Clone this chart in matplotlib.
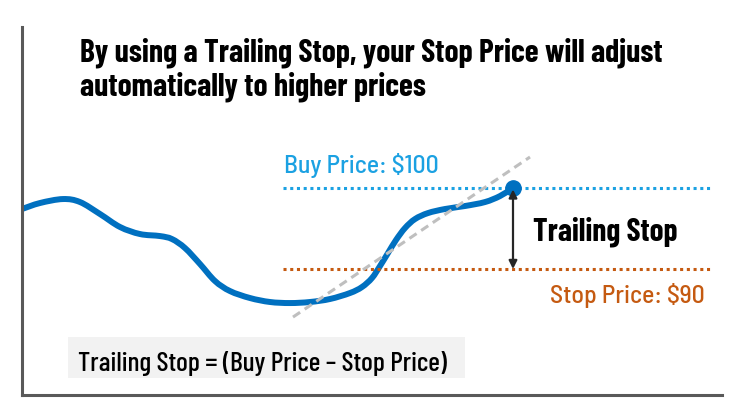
import numpy as np
import matplotlib
matplotlib.use("Agg")
import matplotlib.pyplot as plt
from matplotlib.patches import Rectangle, PathPatch
from matplotlib.path import Path

plt.rcParams["font.family"] = ["Barlow Condensed", "Roboto Condensed", "DejaVu Sans"]
LABEL_FONT = ["Barlow Semi Condensed", "Barlow Condensed", "Roboto Condensed", "DejaVu Sans"]

# price path (x = time step, y = price in $)
time = [22, 40, 63, 80, 100, 120, 140, 160, 172, 185, 200, 215, 230, 250, 270, 290,
        310, 330, 350, 362, 372, 380, 388, 396, 405, 415, 428, 445, 465, 485, 500, 513]
price = [97.41, 98.15, 98.64, 98.27, 96.79, 95.19, 94.32, 94.07, 93.70, 92.59, 90.62,
         88.52, 87.28, 86.42, 85.93, 85.80, 85.93, 86.30, 87.04, 87.78, 88.89, 90.37,
         91.98, 93.58, 95.06, 96.17, 96.91, 97.41, 97.78, 98.27, 99.01, 100.0]
trend_time = [293, 530]
trend_price = [84.07, 103.83]
buy_price = 100
stop_price = 90
level_span = [283, 710]

BLUE = "#0070c0"
CYAN = "#1ba1e2"
ORANGE = "#c55a11"
GRAY = "#595959"


def smooth_path(xs, ys):
    # Catmull-Rom through the read points, drawn as cubic Bezier segments
    pts = np.column_stack([xs, ys]).astype(float)
    verts, codes = [pts[0]], [Path.MOVETO]
    n = len(pts)
    for i in range(n - 1):
        p0, p1, p2, p3 = pts[max(i - 1, 0)], pts[i], pts[i + 1], pts[min(i + 2, n - 1)]
        verts += [p1 + (p2 - p0) / 6, p2 - (p3 - p1) / 6, p2]
        codes += [Path.CURVE4] * 3
    return Path(verts, codes)


fig = plt.figure(figsize=(7.45, 4.17), dpi=100)
ax = fig.add_axes([21.5 / 745, (417 - 394.5) / 417, (722 - 21.5) / 745, (394.5 - 27) / 417])
ax.set_xlim(21.5, 722)
ax.set_ylim(74.51, 119.88)
for side in ["top", "right"]:
    ax.spines[side].set_visible(False)
for side in ["left", "bottom"]:
    ax.spines[side].set_color(GRAY)
    ax.spines[side].set_linewidth(2.2)
ax.set_xticks([])
ax.set_yticks([])

ax.hlines(buy_price, *level_span, color=CYAN, lw=2.2, linestyles=(0, (1, 1.2)))
ax.hlines(stop_price, *level_span, color=ORANGE, lw=2.2, linestyles=(0, (1, 1.2)))
ax.plot(trend_time, trend_price, color="#bfbfbf", lw=2.2, dashes=(2.8, 1.8))
ax.add_patch(PathPatch(smooth_path(time, price), fill=False, edgecolor=BLUE, lw=4.3,
                       capstyle="butt", joinstyle="round"))
ax.plot(time[-1], price[-1], "o", color=BLUE, ms=11)
ax.annotate("", xy=(time[-1], stop_price), xytext=(time[-1], buy_price),
            arrowprops=dict(arrowstyle="<|-|>", color="#262626", lw=1.6,
                            shrinkA=1, shrinkB=0, mutation_scale=12))

fig.text(80 / 745, 1 - 62 / 417, "By using a Trailing Stop, your Stop Price will adjust",
         fontsize=22.8, fontweight="bold", va="baseline", ha="left")
fig.text(80 / 745, 1 - 96 / 417, "automatically to higher prices",
         fontsize=22.8, fontweight="bold", va="baseline", ha="left")
ax.text(284, 101.85, "Buy Price: $100", color=CYAN, fontsize=18.5, fontweight=500,
        family=LABEL_FONT, va="baseline")
ax.text(533, 93.58, "Trailing Stop", color="black", fontsize=22.6, fontweight="bold", va="baseline")
ax.text(705, 85.80, "Stop Price: $90", color=ORANGE, fontsize=18.5, fontweight=500,
        family=LABEL_FONT, va="baseline", ha="right")

ax.add_patch(Rectangle((68, 76.54), 397, 5.06, facecolor="#f2f2f2", edgecolor="none"))
ax.text(78, 77.41, "Trailing Stop = (Buy Price \u2013 Stop Price)", fontsize=19.9, fontweight=500,
        va="baseline", ha="left")

fig.savefig("out.png", dpi=100)
